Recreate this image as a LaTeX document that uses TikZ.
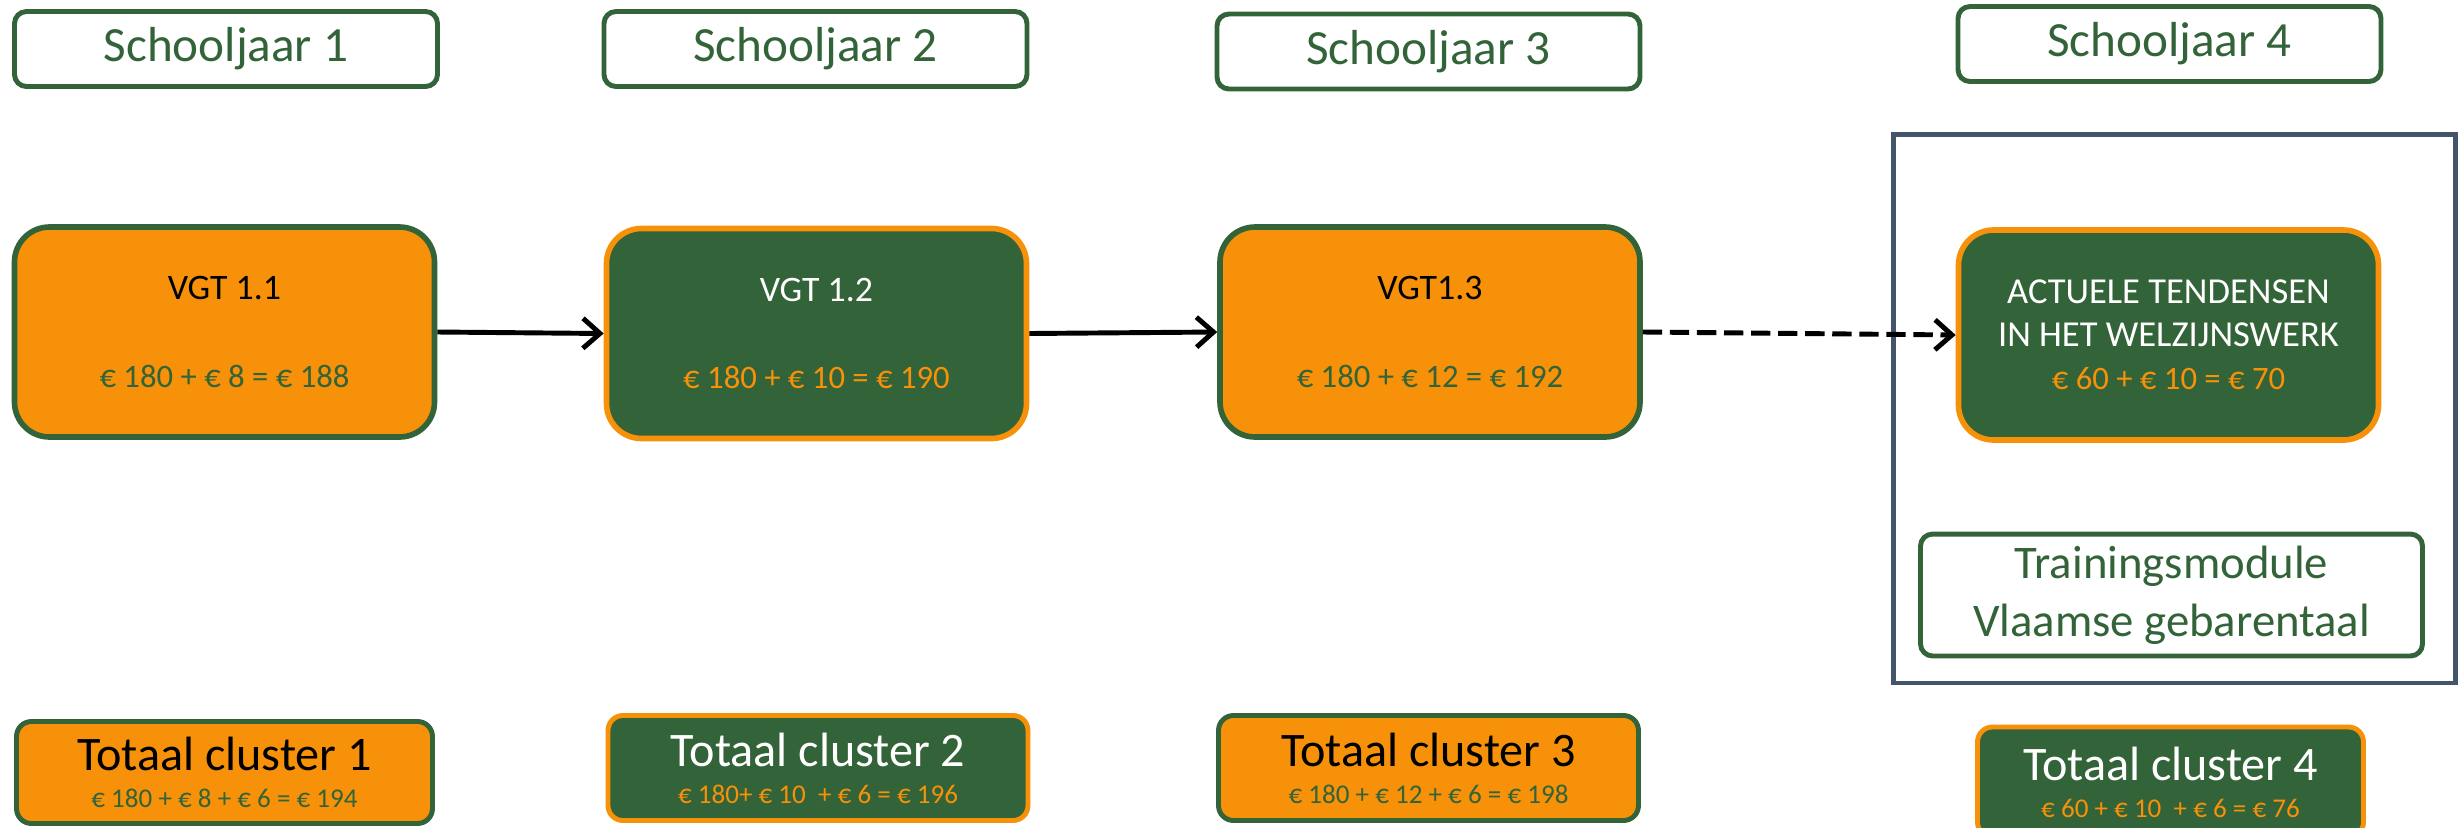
\documentclass[tikz,border=0pt]{standalone}
\usepackage{fontspec}
\setmainfont{Carlito}
\usetikzlibrary{arrows.meta}
\definecolor{vgtgreen}{RGB}{51,99,56}
\definecolor{vgtorange}{RGB}{246,145,9}
\definecolor{framegray}{RGB}{68,84,106}
\newcommand{\klein}{\fontsize{7.7}{9}\selectfont}
\newcommand{\prijs}{\fontsize{9.3}{11}\selectfont}

\begin{document}
\begin{tikzpicture}[
    jaar/.style={draw=vgtgreen, line width=1.4pt, fill=white, rounded corners=0.12cm,
        minimum width=4.23cm, minimum height=0.75cm, text=vgtgreen,
        font=\fontsize{14}{17}\selectfont},
    oranjevak/.style={draw=vgtgreen, line width=1.6pt, fill=vgtorange, rounded corners=0.35cm,
        minimum width=4.2cm, minimum height=2.1cm, align=center, text=black,
        font=\fontsize{10.2}{12.3}\selectfont},
    groenvak/.style={oranjevak, draw=vgtorange, fill=vgtgreen, text=white},
    oranjetotaal/.style={draw=vgtgreen, line width=1.4pt, fill=vgtorange, rounded corners=0.15cm,
        minimum width=4.2cm, minimum height=1.05cm, align=center, text=black,
        font=\fontsize{13.7}{10.6}\selectfont},
    groentotaal/.style={oranjetotaal, draw=vgtorange, fill=vgtgreen, text=white},
    pijl/.style={-{Straight Barb[length=1.7mm,width=3mm]}, line width=1.4pt}
]
    \useasboundingbox (0,0) rectangle (24.58,8.27);
    % school years
    \node[jaar] (jaar1) at (2.26,7.78) {Schooljaar 1};
    \node[jaar] (jaar2) at (8.155,7.78) {Schooljaar 2};
    \node[jaar] (jaar3) at (14.285,7.755) {Schooljaar 3};
    \node[jaar] (jaar4) at (21.695,7.83) {Schooljaar 4};
    % frame round year 4
    \draw[framegray, line width=1.4pt] (18.935,6.925) rectangle (24.555,1.44);
    % modules
    \node[oranjevak] (vgt1) at (2.245,4.95)
        {VGT 1.1\\[0.44cm]{\prijs\color{vgtgreen}€ 180 + € 8 = € 188}};
    \node[groenvak] (vgt2) at (8.165,4.935)
        {VGT 1.2\\[0.44cm]{\prijs\color{vgtorange}€ 180 + € 10 = € 190}};
    \node[oranjevak] (vgt3) at (14.30,4.95)
        {VGT1.3\\[0.44cm]{\prijs\color{vgtgreen}€ 180 + € 12 = € 192}};
    \node[groenvak, font=\fontsize{10.4}{12.3}\selectfont] (vgt4) at (21.685,4.92)
        {ACTUELE TENDENSEN\\IN HET WELZIJNSWERK\\{\prijs\color{vgtorange}€ 60 + € 10 = € 70}};
    \node[jaar, minimum width=5.02cm, minimum height=1.15cm, align=center,
        font=\fontsize{13.3}{16.5}\selectfont] (vgtmod) at (21.715,2.32)
        {Trainingsmodule\\Vlaamse gebarentaal};
    % arrows
    \draw[pijl] (vgt1.east) -- (vgt2.west);
    \draw[pijl] (vgt2.east) -- (vgt3.west);
    \draw[pijl, dash pattern=on 5.5pt off 2.2pt] (vgt3.east) -- (vgt4.west);
    % totals
    \node[oranjetotaal, minimum width=4.16cm, minimum height=1.02cm] (tot1) at (2.245,0.545)
        {Totaal cluster 1\\{\klein\color{vgtgreen}€ 180 + € 8 + € 6 = € 194}};
    \node[groentotaal] (tot2) at (8.18,0.59)
        {Totaal cluster 2\\{\klein\color{vgtorange}€ 180+ € 10~ + € 6 = € 196}};
    \node[oranjetotaal] (tot3) at (14.285,0.59)
        {Totaal cluster 3\\{\klein\color{vgtgreen}€ 180 + € 12 + € 6 = € 198}};
    \node[groentotaal, minimum width=3.86cm, minimum height=1.1cm] (tot4) at (21.705,0.45)
        {Totaal cluster 4\\{\klein\color{vgtorange}€ 60 + € 10~ + € 6 = € 76}};
\end{tikzpicture}
\end{document}
